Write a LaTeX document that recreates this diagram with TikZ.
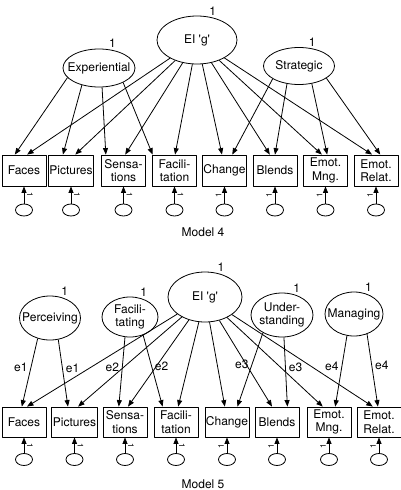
\documentclass[tikz,border=0pt]{standalone}
\usepackage{fontspec}
\setmainfont{TeX Gyre Heros}
\usetikzlibrary{shapes.geometric,arrows.meta}
\begin{document}
\begin{tikzpicture}[x=1pt,y=-1pt,>={Triangle[length=6.5pt,width=5pt]},
    font=\fontsize{12}{13.5}\selectfont, line width=0.8pt, line join=round,
    lbl/.style={inner sep=1pt},
    lat/.style={draw,ellipse,inner xsep=-9pt,inner ysep=0pt,align=center,label={[lbl]65:1}},
    obs/.style={draw,minimum width=44pt,minimum height=31pt,inner sep=1pt,align=center},
    err/.style={draw,ellipse,minimum width=17pt,minimum height=12pt,inner sep=0pt},
    tck/.style={font=\fontsize{8}{8}\selectfont,inner sep=0pt}]
  \useasboundingbox (0,0) rectangle (401,490);
  %\draw[gray!40] (0,0) grid[step=50] (401,490);
  % model 4
  \node[lat,minimum width=80pt,minimum height=48pt] (g4) at (197,40) {EI \textquotesingle g\textquotesingle};
  \node[lat,minimum width=72pt,minimum height=38pt] (ex) at (99,68) {Experiential};
  \node[lat,minimum width=71pt,minimum height=37pt] (st) at (299,66) {Strategic};
  % model 5
  \node[lat,minimum width=74pt,minimum height=50pt] (g5) at (205,297) {EI \textquotesingle g\textquotesingle};
  \node[lat,minimum width=61pt,minimum height=44pt] (pe) at (50,318) {Perceiving};
  \node[lat,minimum width=56pt,minimum height=40pt] (fa) at (130,317) {Facili-\\tating};
  \node[lat,minimum width=62pt,minimum height=44pt] (un) at (282,315) {Under-\\standing};
  \node[lat,minimum width=58pt,minimum height=44pt] (ma) at (354,314) {Managing};
  \foreach \n/\xa/\xb/\rot/\txt in {1/24/24/-90/Faces,2/71/74.5/-90/Pictures,3/123.5/125/-90/{Sensa-\\tions},
      4/174.5/176/-90/{Facili-\\tation},5/224.5/227/90/Change,6/275/277/90/Blends,7/325.5/329/90/{Emot.\\Mng.},8/376/379/90/{Emot.\\Relat.}}{
    \node[obs] (a\n) at (\xa,170.5) {\txt};
    \node[obs,minimum height=30pt] (b\n) at (\xb,422) {\txt};
    \node[err] (ea\n) at (\xa,210) {};
    \node[err] (eb\n) at (\xb,459.5) {};
    \draw[->] (ea\n) -- (a\n);
    \draw[->] (eb\n) -- (b\n);
    \node[tck,rotate=\rot] at ({\xa-(\rot)/15},195) {1};
    \node[tck,rotate=\rot] at ({\xb-(\rot)/15},446) {1};
  }
  \foreach \n/\p/\q in {1/79/79,2/75/77,3/84/79,4/88/82,5/99/98,6/108/108,7/103/112,8/104/112}{
    \draw[->] (g4) -- (a\n.\p);
    \draw[->] (g5) -- (b\n.\q);
  }
  \foreach \u/\v in {ex.-163/a1.120,ex.-135/a2.117,ex.-81/a3.138,ex.-31/a4.144,st.-154/a5.64,st.-124/a6.90,st.-54/a7.84,st.-24/a8.75}
    \draw[->] (\u) -- (\v);
  \foreach \u/\v/\s/\l in {pe.-121/b1.98/left/e1,pe.-69/b2.113/right/e1,fa.-104/b3.112/left/e2,fa.-54/b4.131/right/e2,
      un.-137/b5.56/left/e3,un.-85/b6.56/right/e3,ma.-108/b7.68/left/e4,ma.-57/b8.94/right/e4}
    \draw[->] (\u) -- (\v) node[pos=0.43,\s,inner sep=3pt] {\l};
  \node (m4) at (203,232) {Model 4};
  \node (m5) at (203,484) {Model 5};
\end{tikzpicture}
\end{document}
